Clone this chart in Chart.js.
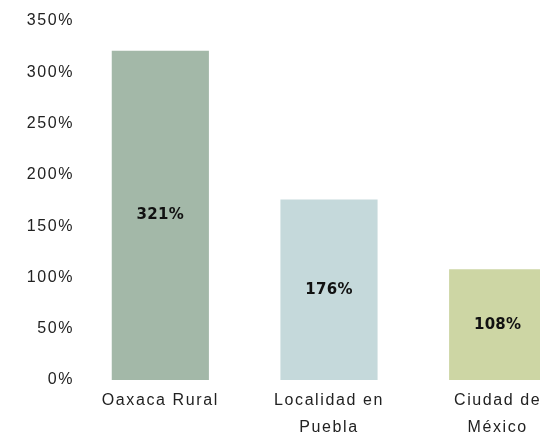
<!DOCTYPE html>
<html lang="es">
<head>
  <meta charset="UTF-8">
  <title>Comparación</title>
  <style>
    html, body {
      margin: 0;
      padding: 0;
      background: #fff;
      overflow: hidden;
    }
    .wrap {
      width: 582px;
      height: 435px;
    }
  </style>
</head>
<body>
  <div class="wrap">
    <canvas id="chart" width="582" height="435"></canvas>
  </div>
  <script src="https://cdn.jsdelivr.net/npm/chart.js"></script>
  <script>
    // Data
    const categories = [["Oaxaca Rural"], ["Localidad en", "Puebla"], ["Ciudad de", "México"]];
    const values = [321, 176, 108];
    const barColors = ["#a3b8a8", "#c5d9db", "#cdd6a4"];
    const yTicks = [0, 50, 100, 150, 200, 250, 300, 350];

    // spaced-out axis text
    const spacing = {
      id: "spacing",
      beforeLayout(chart) { chart.ctx.letterSpacing = "1.6px"; },
      beforeDraw(chart) { chart.ctx.letterSpacing = "1.6px"; }
    };

    // value labels centred in each bar
    const barLabels = {
      id: "barLabels",
      afterDatasetsDraw(chart) {
        const ctx = chart.ctx;
        const meta = chart.getDatasetMeta(0);
        ctx.save();
        ctx.letterSpacing = "0.3px";
        ctx.font = "bold 15px 'DejaVu Sans'";
        ctx.fillStyle = "#111";
        ctx.textAlign = "center";
        ctx.textBaseline = "middle";
        meta.data.forEach((bar, i) => {
          const mid = (bar.y + bar.base) / 2;
          ctx.fillText(values[i] + "%", bar.x, mid);
        });
        ctx.restore();
      }
    };

    new Chart(document.getElementById("chart"), {
      type: "bar",
      data: {
        labels: categories,
        datasets: [{
          data: values,
          backgroundColor: barColors,
          borderWidth: 0,
          barPercentage: 0.576,
          categoryPercentage: 1
        }]
      },
      options: {
        responsive: false,
        animation: false,
        layout: { padding: { top: 21, left: 0, right: 0, bottom: 0 } },
        plugins: {
          legend: { display: false },
          tooltip: { enabled: false }
        },
        scales: {
          x: {
            afterFit(scale) { scale.height = 55; },
            grid: { display: false, drawTicks: false },
            border: { display: false },
            ticks: {
              color: "#222",
              padding: 7,
              font: { family: "Liberation Sans", size: 16, lineHeight: 1.7 }
            }
          },
          y: {
            min: 0,
            max: 350,
            afterFit(scale) { scale.width = 76; },
            afterBuildTicks(scale) { scale.ticks = yTicks.map(v => ({ value: v })); },
            grid: { display: false, drawTicks: false },
            border: { display: false },
            ticks: {
              color: "#222",
              padding: 2,
              font: { family: "Liberation Sans", size: 16 },
              callback: v => v + "%"
            }
          }
        }
      },
      plugins: [spacing, barLabels]
    });
  </script>
</body>
</html>
